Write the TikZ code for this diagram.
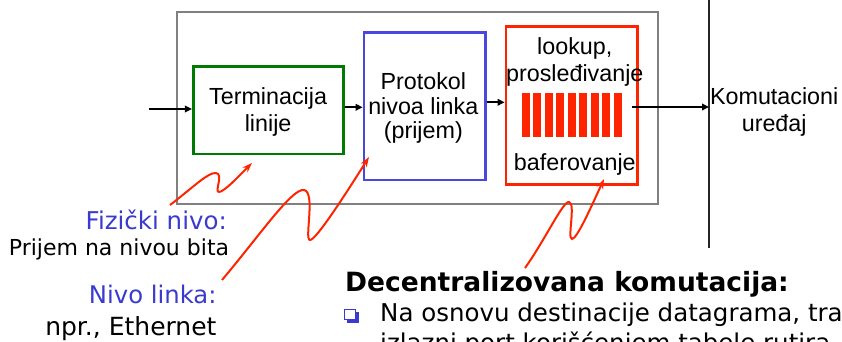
\documentclass[tikz,border=0pt]{standalone}
\usepackage{fontspec}
\setmainfont{Liberation Sans}
\newfontfamily\comic{DejaVu Sans}
\usetikzlibrary{arrows.meta}
\definecolor{boxgreen}{RGB}{0,122,0}
\definecolor{boxblue}{RGB}{72,72,224}
\definecolor{boxred}{RGB}{255,36,0}
\definecolor{txtblue}{RGB}{58,58,208}
\definecolor{framegray}{RGB}{128,128,128}
\tikzset{
  box/.style={draw, line width=2.7pt, inner sep=0pt, rectangle},
  lbl/.style={font=\fontsize{23.3}{25}\selectfont, inner sep=0pt, anchor=base},
  arr/.style={line width=2pt, -{Triangle[length=7pt,width=6.5pt]}},
  wiggle/.style={draw=boxred, line width=2pt, -{Stealth[length=10pt,width=7pt]}},
  note/.style={inner sep=0pt, anchor=base east},
  bul/.style={font=\comic\fontsize{24.5}{30}\selectfont, inner sep=0pt, anchor=base west},
}
\begin{document}
\begin{tikzpicture}[x=1pt,y=-1pt]
\useasboundingbox (0,0) rectangle (842,342);
\clip (0,0) rectangle (842,342);
% outer frame
\node[box, draw=framegray, line width=2pt, minimum width=480.4pt, minimum height=192pt] (frame) at (417.5,108.3) {};
% boxes
\node[box, draw=boxgreen, minimum width=150pt, minimum height=87.3pt] (term) at (268.3,110.3) {};
\node[box, draw=boxblue, minimum width=121.7pt, minimum height=147.7pt] (proto) at (424.85,106.15) {};
\node[box, draw=boxred, minimum width=131.5pt, minimum height=157.6pt] (fwd) at (571.75,105.5) {};
% buffer bars
\foreach \i in {0,...,8}{
  \fill[boxred] (521.7+11.5*\i,93.3) rectangle ++(8,43.4);
}
% box labels
\node[lbl] (t1) at (268.1,104.5) {Terminacija};
\node[lbl] (t2) at (268.1,131) {linije};
\node[lbl] (p1) at (423.3,90) {Protokol};
\node[lbl] (p2) at (423.3,114) {nivoa linka};
\node[lbl] (p3) at (423.3,138) {(prijem)};
\node[lbl] (l1) at (574.8,55) {lookup,};
\node[lbl] (l2) at (574.8,81.7) {prosleđivanje};
\node[lbl] (l3) at (574.8,170.5) {baferovanje};
\node[lbl] (k1) at (774.2,105) {Komutacioni};
\node[lbl] (k2) at (774.2,131.5) {uređaj};
% connectors
\coordinate (inS) at (149,109);
\coordinate (y2) at (0,107.3);
\coordinate (y3) at (0,102.3);
\coordinate (oS) at (632.3,107);
\coordinate (vT) at (709,0);
\coordinate (vB) at (709,248);
\draw[black!85, line width=1.2pt] (vT) -- (vB);
\draw[arr] (inS) -- (inS -| term.west);
\draw[arr] (term.east |- y2) -- (proto.west |- y2);
\draw[arr] (proto.east |- y3) -- (fwd.west |- y3);
\draw[arr] (oS) -- (oS -| vT);
% notes
\node[note, text=txtblue, font=\comic\fontsize{24.5}{26}\selectfont] (fiz) at (227,229.3) {Fizički nivo:};
\node[note, font=\comic\fontsize{22}{24}\selectfont] (bit) at (229.3,255) {Prijem na nivou bita};
\node[note, text=txtblue, font=\comic\fontsize{24.3}{26}\selectfont] (nl) at (216.7,303.3) {Nivo linka:};
\node[note, font=\comic\fontsize{25}{27}\selectfont] (eth) at (216.7,335) {npr., Ethernet};
\node[font=\comic\bfseries\fontsize{26.5}{28}\selectfont, anchor=base west, inner sep=0pt] (dec) at (345,291.7) {Decentralizovana komutacija:};
% bullet square
\fill[txtblue] (346.5,311.5) rectangle (358.5,322.5);
\fill[white] (344,309) rectangle (355.5,319.5);
\draw[txtblue, line width=1pt] (344,309) rectangle (355.5,319.5);
\node[bul] (b1) at (380,321.7) {Na osnovu destinacije datagrama, tra};
\node[bul] (b2) at (380,351) {izlazni port korišćenjem tabele rutira};
% red squiggles
\coordinate (s1) at (170,205);
\coordinate (s2) at (222,280);
\coordinate (s3) at (525,268);
\coordinate (e1) at (252,163);
\coordinate (e2) at (369,157);
\coordinate (e3) at (604,179);
\draw[wiggle] (s1) .. controls (190,190) and (208,172) .. (216,173)
  .. controls (224,174) and (214,192) .. (219,192)
  .. controls (224,192) and (240,175) .. (e1);
\draw[wiggle] (s2) .. controls (260,235) and (292,188) .. (304,190)
  .. controls (316,192) and (304,240) .. (310,240)
  .. controls (316,240) and (345,195) .. (e2);
\draw[wiggle] (s3) .. controls (545,240) and (563,201) .. (569,202)
  .. controls (576,203) and (567,239) .. (572,239)
  .. controls (577,239) and (592,205) .. (e3);
\end{tikzpicture}
\end{document}
